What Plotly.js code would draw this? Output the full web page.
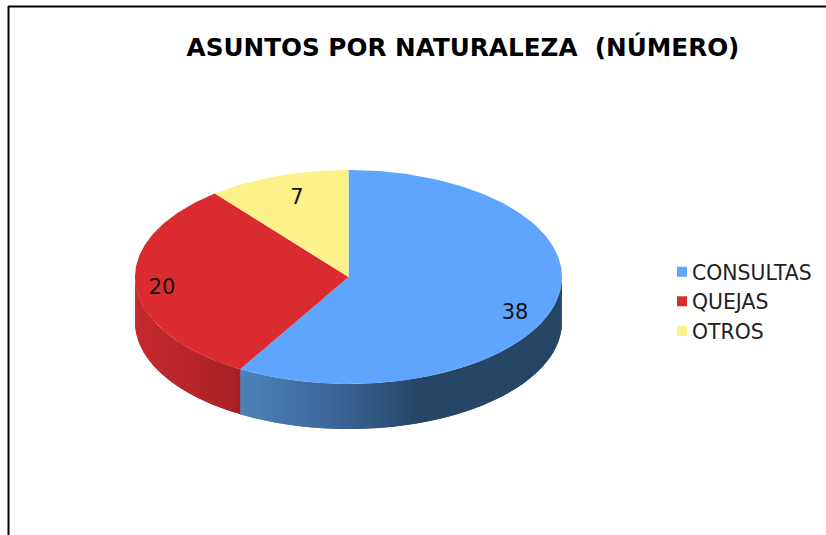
<!DOCTYPE html>
<html>
<head>
<meta charset="utf-8">
<script src="https://cdn.plot.ly/plotly-3.0.1.min.js"></script>
<style>html,body{margin:0;padding:0;background:#fff;overflow:hidden}#c{width:826px;height:535px}</style>
</head>
<body>
<div id="c"></div>
<script>
const categories = ["CONSULTAS", "QUEJAS", "OTROS"];
const values = [38, 20, 7];
const topColors = ["#5FA5FF", "#DA2C30", "#FDF18A"];
const chartTitle = "ASUNTOS POR NATURALEZA\u00A0\u00A0(NÚMERO)";

// pie geometry (pixels of the page; the axes map 1 unit to 1 pixel)
const cx = 348.5, cy = 277, rx = 213.5, ry = 107, depth = 45;
const labelAnchors = [[515, 314], [162, 289], [297, 199]];

// side shading stops: [x pixel, r, g, b]
const sideStops = [
  [[240, 76, 130, 186], [300, 66, 112, 165], [350, 56, 96, 142], [420, 38, 70, 102], [562, 38, 70, 102]],
  [[135, 196, 42, 46], [190, 184, 38, 42], [240, 164, 32, 36]]
];

const total = values.reduce((a, b) => a + b, 0);
const px = a => cx + rx * Math.sin(a);
const py = a => cy - ry * Math.cos(a);
const rad = d => d * Math.PI / 180;

function shade(stops, x) {
  if (x <= stops[0][0]) return stops[0];
  for (let i = 1; i < stops.length; i++) {
    if (x <= stops[i][0]) {
      const a = stops[i - 1], b = stops[i], t = (x - a[0]) / (b[0] - a[0]);
      return [x, a[1] + t * (b[1] - a[1]), a[2] + t * (b[2] - a[2]), a[3] + t * (b[3] - a[3])];
    }
  }
  return stops[stops.length - 1];
}

const traces = [];
let start = 0;
const sectors = values.map(v => {
  const s = { from: start, to: start + v / total * 360 };
  start = s.to;
  return s;
});

// visible outer wall: the front half of the rim, cut into thin shaded strips that overlap the next one
sectors.forEach((s, k) => {
  const lo = Math.max(s.from, 90), hi = Math.min(s.to, 270);
  if (lo >= hi || !sideStops[k]) return;
  const step = 1.5;
  const n = Math.ceil((hi - lo) / step);
  for (let i = 0; i < n; i++) {
    const d0 = lo + (hi - lo) * i / n;
    const d1 = lo + (hi - lo) * (i + 1) / n;
    const d2 = Math.min(hi, d1 + step);
    const a0 = rad(d0), a1 = rad(d1), a2 = rad(d2);
    const c = shade(sideStops[k], (px(a0) + px(a1)) / 2);
    const col = `rgb(${Math.round(c[1])},${Math.round(c[2])},${Math.round(c[3])})`;
    traces.push({
      type: "scatter", mode: "lines", fill: "toself", fillcolor: col,
      x: [px(a0), px(a2), px(a2), px(a0), px(a0)],
      y: [py(a0), py(a2), py(a2) + depth, py(a0) + depth, py(a0)],
      line: { width: 0 }, showlegend: false, hoverinfo: "skip"
    });
  }
});

// top face
sectors.forEach((s, k) => {
  const xs = [cx], ys = [cy];
  const n = Math.ceil(s.to - s.from);
  for (let i = 0; i <= n; i++) {
    const a = rad(s.from + (s.to - s.from) * i / n);
    xs.push(px(a)); ys.push(py(a));
  }
  xs.push(cx); ys.push(cy);
  traces.push({
    type: "scatter", mode: "lines", fill: "toself", fillcolor: topColors[k],
    x: xs, y: ys, line: { width: 0 },
    name: categories[k], showlegend: false, hoverinfo: "name"
  });
});

// value labels
traces.push({
  type: "scatter", mode: "text",
  x: labelAnchors.map(p => p[0]), y: labelAnchors.map(p => p[1]),
  text: values.map(String), textposition: "middle center",
  textfont: { family: "DejaVu Sans", size: 21, color: "#111" },
  showlegend: false, hoverinfo: "skip"
});

// legend entries
categories.forEach((name, k) => {
  traces.push({
    type: "scatter", mode: "markers", x: [null], y: [null], name,
    marker: { symbol: "square", size: 10, color: topColors[k] }
  });
});

const frame = { color: "#000", width: 2 };
const layout = {
  width: 826, height: 535, autosize: false,
  margin: { l: 0, r: 0, t: 0, b: 0 },
  paper_bgcolor: "#fff", plot_bgcolor: "#fff",
  title: {
    text: chartTitle, x: 463 / 826, xanchor: "center", y: 1 - 47 / 535, yanchor: "middle",
    font: { family: "DejaVu Sans", size: 24.7, color: "#000", weight: 700 }
  },
  xaxis: { range: [0, 826], visible: false, fixedrange: true },
  yaxis: { range: [535, 0], visible: false, fixedrange: true },
  legend: {
    x: 652 / 826, xanchor: "left", y: 1 - 252 / 535, yanchor: "top",
    bgcolor: "rgba(0,0,0,0)", borderwidth: 0, itemwidth: 30,
    font: { family: "DejaVu Sans", size: 20.4, color: "#222" },
    tracegroupgap: 0
  },
  shapes: [
    { type: "line", xref: "x", yref: "y", x0: 8.5, x1: 8.5, y0: 6, y1: 535, line: frame },
    { type: "line", xref: "x", yref: "y", x0: 8, x1: 826, y0: 6.5, y1: 6.5, line: frame }
  ]
};

Plotly.newPlot("c", traces, layout, { displayModeBar: false, staticPlot: true }).then(() => {
  // bring the swatches next to their labels, as in the reference
  document.querySelectorAll("#c .legend .legendsymbols").forEach(el => {
    el.setAttribute("transform", "translate(10,0)");
  });
});
</script>
</body>
</html>
